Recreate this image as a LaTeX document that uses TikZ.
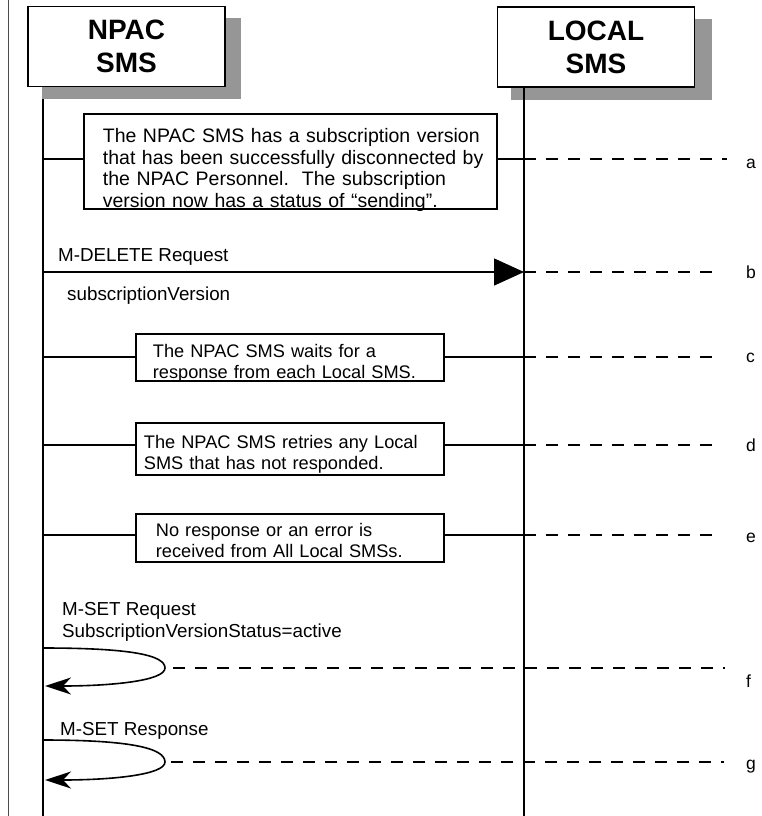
\documentclass[tikz,border=0pt]{standalone}
\usepackage{fontspec}
\setmainfont{Liberation Sans}
\usetikzlibrary{arrows.meta,calc}
\definecolor{shadowgray}{RGB}{150,150,150}
\begin{document}
\begin{tikzpicture}[x=1pt,y=-1pt,
  hdr/.style={draw, line width=1.8pt, fill=white, minimum width=197pt, minimum height=80pt, align=center, font=\fontsize{28}{33}\selectfont\bfseries, inner sep=0pt},
  shadowfill/.style={fill=shadowgray},
  lifeline/.style={line width=2.2pt},
  notebox/.style={draw, line width=1.8pt, fill=white, anchor=north west, align=left, inner ysep=0pt, font=\fontsize{18.2}{21}\selectfont},
  conn/.style={line width=1.6pt},
  dashline/.style={line width=2pt, dash pattern=on 12pt off 10pt},
  msg/.style={line width=1.6pt},
  steplabel/.style={font=\fontsize{17.5}{20}\selectfont, anchor=base west, inner sep=0pt},
  mlabel/.style={font=\fontsize{18.8}{21}\selectfont, anchor=base west, inner sep=0pt},
  loopmsg/.style={line width=1.6pt, -{Stealth[length=26pt,width=17pt,inset=8pt]}}
]
\useasboundingbox (0,0) rectangle (761,816);

% left border
\coordinate (bT) at (8,0);
\coordinate (bB) at (8,816);
\draw[line width=1pt, black!70] (bT) -- (bB);

% shadows
\fill[shadowfill] (42,18) rectangle (241,99);
\fill[shadowfill] (511,19) rectangle (712,100);

% headers
\node[hdr] (npac) at (126.5,46.5) {NPAC\\SMS};
\node[hdr] (local) at (596,47) {LOCAL\\SMS};

% lifelines
\coordinate (npacTop) at (43,99);
\coordinate (npacBot) at (43,816);
\coordinate (localTop) at (524,87);
\coordinate (localBot) at (524,816);
\draw[lifeline] (npacTop) -- (npacBot);
\draw[lifeline] (localTop) -- (localBot);

% step a
\node[notebox, font=\fontsize{19.5}{21.5}\selectfont, minimum width=413pt, text width=375pt, inner xsep=19pt, text height=29pt, text depth=66pt] (boxa) at (83,113)
  {\mbox{The NPAC SMS has a subscription version}\\\mbox{that has been successfully disconnected by}\\\mbox{the NPAC Personnel.\ \ The subscription}\\\mbox{version now has a status of “sending”.}};
\coordinate (La) at (43,159);
\coordinate (Ra) at (524,159);
\coordinate (Ea) at (727,159);
\draw[conn] (La) -- (La -| boxa.west);
\draw[conn] (La -| boxa.east) -- (Ra);
\draw[dashline] (Ra) -- (Ea);
\node[steplabel] (ta) at (746,168) {a};

% step b
\coordinate (Lb) at (43,272);
\coordinate (Rb) at (524,272);
\coordinate (Eb) at (713,272);
\draw[msg, -{Triangle[length=30pt,width=27pt]}] (Lb) -- (Rb);
\node[mlabel] (mb1) at (58,261) {M-DELETE Request};
\node[mlabel] (mb2) at (67,300) {subscriptionVersion};
\draw[dashline] (Rb) -- (Eb);
\node[steplabel] (tb) at (746,278) {b};

% step c
\node[notebox, minimum width=308pt, text width=274pt, inner xsep=17pt, text height=24pt, text depth=23pt] (boxc) at (135,333)
  {\mbox{The NPAC SMS waits for a}\\\mbox{response from each Local SMS.}};
\coordinate (Lc) at (43,357);
\coordinate (Rc) at (524,357);
\coordinate (Ec) at (713,357);
\draw[conn] (Lc) -- (Lc -| boxc.west);
\draw[conn] (Lc -| boxc.east) -- (Rc);
\draw[dashline] (Rc) -- (Ec);
\node[steplabel] (tc) at (746,362) {c};

% step d
\node[notebox, minimum width=308pt, text width=292pt, inner xsep=8pt, text height=26pt, text depth=26pt] (boxd) at (135,422)
  {\mbox{The NPAC SMS retries any Local}\\\mbox{SMS that has not responded.}};
\coordinate (Ld) at (43,445);
\coordinate (Rd) at (524,445);
\coordinate (Ed) at (713,445);
\draw[conn] (Ld) -- (Ld -| boxd.west);
\draw[conn] (Ld -| boxd.east) -- (Rd);
\draw[dashline] (Rd) -- (Ed);
\node[steplabel] (td) at (746,451) {d};

% step e
\node[notebox, minimum width=308pt, text width=268pt, inner xsep=20pt, text height=23pt, text depth=25pt] (boxe) at (135,513)
  {\mbox{No response or an error is}\\\mbox{received from All Local SMSs.}};
\coordinate (Le) at (43,535);
\coordinate (Re) at (524,535);
\coordinate (Ee) at (713,535);
\draw[conn] (Le) -- (Le -| boxe.west);
\draw[conn] (Le -| boxe.east) -- (Re);
\draw[dashline] (Re) -- (Ee);
\node[steplabel] (te) at (746,542) {e};

% step f
\node[mlabel] (mf1) at (62,615) {M-SET Request};
\node[mlabel] (mf2) at (62,637) {SubscriptionVersionStatus=active};
\coordinate (Lf) at (43,648);
\coordinate (Mf) at (165,668);
\coordinate (Tf) at (45,686);
\coordinate (Sf) at (173,668);
\coordinate (Ef) at (725,668);
\draw[loopmsg] (Lf) .. controls (130,648) and (165,655) .. (Mf) .. controls (165,681) and (110,686) .. (Tf);
\draw[dashline] (Sf) -- (Ef);
\node[steplabel] (tf) at (746,687) {f};

% step g
\node[mlabel] (mg1) at (60,735) {M-SET Response};
\coordinate (Lg) at (43,740);
\coordinate (Mg) at (165,762);
\coordinate (Tg) at (45,780);
\coordinate (Sg) at (171,762);
\coordinate (Eg) at (724,762);
\draw[loopmsg] (Lg) .. controls (130,740) and (165,748) .. (Mg) .. controls (165,775) and (110,780) .. (Tg);
\draw[dashline] (Sg) -- (Eg);
\node[steplabel] (tg) at (746,769) {g};
\end{tikzpicture}
\end{document}
